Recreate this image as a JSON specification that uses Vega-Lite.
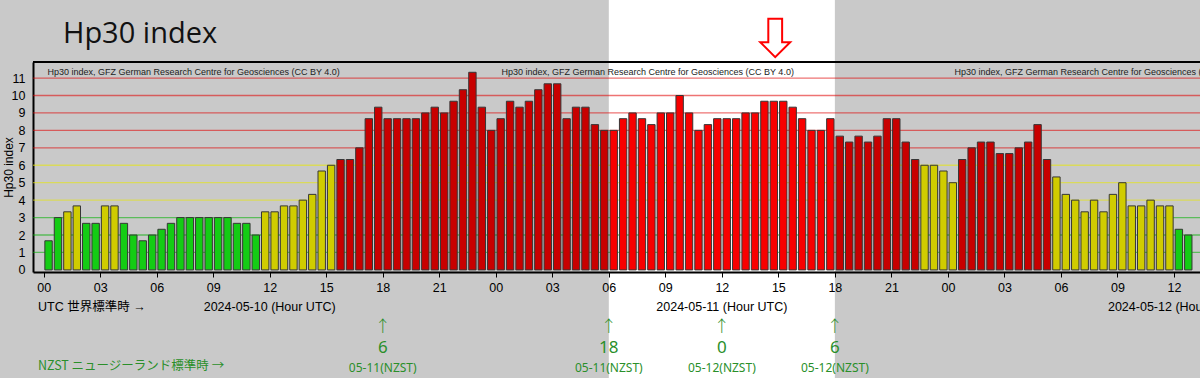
{
  "$schema": "https://vega.github.io/schema/vega-lite/v6.json",
  "autosize": {"type": "none"},
  "padding": {"left": 33, "top": 62, "right": 0, "bottom": 106},
  "width": 1167,
  "height": 210,
  "background": "#c9c9c9",
  "config": {"view": {"stroke": null, "fill": null}},
  "title": {"text": "Hp30 index", "anchor": "start", "frame": "group", "font": "Open Sans", "fontSize": 29, "fontWeight": "normal", "color": "#111111", "dx": 30, "offset": -49},
  "datasets": {
    "hp": [
      {"t": "2024-05-10T00:00:00Z", "v": 1.67}, {"t": "2024-05-10T00:30:00Z", "v": 3}, {"t": "2024-05-10T01:00:00Z", "v": 3.33}, {"t": "2024-05-10T01:30:00Z", "v": 3.67},
      {"t": "2024-05-10T02:00:00Z", "v": 2.67}, {"t": "2024-05-10T02:30:00Z", "v": 2.67}, {"t": "2024-05-10T03:00:00Z", "v": 3.67}, {"t": "2024-05-10T03:30:00Z", "v": 3.67},
      {"t": "2024-05-10T04:00:00Z", "v": 2.67}, {"t": "2024-05-10T04:30:00Z", "v": 2}, {"t": "2024-05-10T05:00:00Z", "v": 1.67}, {"t": "2024-05-10T05:30:00Z", "v": 2},
      {"t": "2024-05-10T06:00:00Z", "v": 2.33}, {"t": "2024-05-10T06:30:00Z", "v": 2.67}, {"t": "2024-05-10T07:00:00Z", "v": 3}, {"t": "2024-05-10T07:30:00Z", "v": 3},
      {"t": "2024-05-10T08:00:00Z", "v": 3}, {"t": "2024-05-10T08:30:00Z", "v": 3}, {"t": "2024-05-10T09:00:00Z", "v": 3}, {"t": "2024-05-10T09:30:00Z", "v": 3},
      {"t": "2024-05-10T10:00:00Z", "v": 2.67}, {"t": "2024-05-10T10:30:00Z", "v": 2.67}, {"t": "2024-05-10T11:00:00Z", "v": 2}, {"t": "2024-05-10T11:30:00Z", "v": 3.33},
      {"t": "2024-05-10T12:00:00Z", "v": 3.33}, {"t": "2024-05-10T12:30:00Z", "v": 3.67}, {"t": "2024-05-10T13:00:00Z", "v": 3.67}, {"t": "2024-05-10T13:30:00Z", "v": 4},
      {"t": "2024-05-10T14:00:00Z", "v": 4.33}, {"t": "2024-05-10T14:30:00Z", "v": 5.67}, {"t": "2024-05-10T15:00:00Z", "v": 6}, {"t": "2024-05-10T15:30:00Z", "v": 6.33},
      {"t": "2024-05-10T16:00:00Z", "v": 6.33}, {"t": "2024-05-10T16:30:00Z", "v": 7}, {"t": "2024-05-10T17:00:00Z", "v": 8.67}, {"t": "2024-05-10T17:30:00Z", "v": 9.33},
      {"t": "2024-05-10T18:00:00Z", "v": 8.67}, {"t": "2024-05-10T18:30:00Z", "v": 8.67}, {"t": "2024-05-10T19:00:00Z", "v": 8.67}, {"t": "2024-05-10T19:30:00Z", "v": 8.67},
      {"t": "2024-05-10T20:00:00Z", "v": 9}, {"t": "2024-05-10T20:30:00Z", "v": 9.33}, {"t": "2024-05-10T21:00:00Z", "v": 9}, {"t": "2024-05-10T21:30:00Z", "v": 9.67},
      {"t": "2024-05-10T22:00:00Z", "v": 10.33}, {"t": "2024-05-10T22:30:00Z", "v": 11.33}, {"t": "2024-05-10T23:00:00Z", "v": 9.33}, {"t": "2024-05-10T23:30:00Z", "v": 8},
      {"t": "2024-05-11T00:00:00Z", "v": 8.67}, {"t": "2024-05-11T00:30:00Z", "v": 9.67}, {"t": "2024-05-11T01:00:00Z", "v": 9.33}, {"t": "2024-05-11T01:30:00Z", "v": 9.67},
      {"t": "2024-05-11T02:00:00Z", "v": 10.33}, {"t": "2024-05-11T02:30:00Z", "v": 10.67}, {"t": "2024-05-11T03:00:00Z", "v": 10.67}, {"t": "2024-05-11T03:30:00Z", "v": 8.67},
      {"t": "2024-05-11T04:00:00Z", "v": 9.33}, {"t": "2024-05-11T04:30:00Z", "v": 9.33}, {"t": "2024-05-11T05:00:00Z", "v": 8.33}, {"t": "2024-05-11T05:30:00Z", "v": 8},
      {"t": "2024-05-11T06:00:00Z", "v": 8}, {"t": "2024-05-11T06:30:00Z", "v": 8.67}, {"t": "2024-05-11T07:00:00Z", "v": 9}, {"t": "2024-05-11T07:30:00Z", "v": 8.67},
      {"t": "2024-05-11T08:00:00Z", "v": 8.33}, {"t": "2024-05-11T08:30:00Z", "v": 9}, {"t": "2024-05-11T09:00:00Z", "v": 9}, {"t": "2024-05-11T09:30:00Z", "v": 10},
      {"t": "2024-05-11T10:00:00Z", "v": 9}, {"t": "2024-05-11T10:30:00Z", "v": 8}, {"t": "2024-05-11T11:00:00Z", "v": 8.33}, {"t": "2024-05-11T11:30:00Z", "v": 8.67},
      {"t": "2024-05-11T12:00:00Z", "v": 8.67}, {"t": "2024-05-11T12:30:00Z", "v": 8.67}, {"t": "2024-05-11T13:00:00Z", "v": 9}, {"t": "2024-05-11T13:30:00Z", "v": 9},
      {"t": "2024-05-11T14:00:00Z", "v": 9.67}, {"t": "2024-05-11T14:30:00Z", "v": 9.67}, {"t": "2024-05-11T15:00:00Z", "v": 9.67}, {"t": "2024-05-11T15:30:00Z", "v": 9.33},
      {"t": "2024-05-11T16:00:00Z", "v": 8.67}, {"t": "2024-05-11T16:30:00Z", "v": 8}, {"t": "2024-05-11T17:00:00Z", "v": 8}, {"t": "2024-05-11T17:30:00Z", "v": 8.67},
      {"t": "2024-05-11T18:00:00Z", "v": 7.67}, {"t": "2024-05-11T18:30:00Z", "v": 7.33}, {"t": "2024-05-11T19:00:00Z", "v": 7.67}, {"t": "2024-05-11T19:30:00Z", "v": 7.33},
      {"t": "2024-05-11T20:00:00Z", "v": 7.67}, {"t": "2024-05-11T20:30:00Z", "v": 8.67}, {"t": "2024-05-11T21:00:00Z", "v": 8.67}, {"t": "2024-05-11T21:30:00Z", "v": 7.33},
      {"t": "2024-05-11T22:00:00Z", "v": 6.33}, {"t": "2024-05-11T22:30:00Z", "v": 6}, {"t": "2024-05-11T23:00:00Z", "v": 6}, {"t": "2024-05-11T23:30:00Z", "v": 5.67},
      {"t": "2024-05-12T00:00:00Z", "v": 5}, {"t": "2024-05-12T00:30:00Z", "v": 6.33}, {"t": "2024-05-12T01:00:00Z", "v": 7}, {"t": "2024-05-12T01:30:00Z", "v": 7.33},
      {"t": "2024-05-12T02:00:00Z", "v": 7.33}, {"t": "2024-05-12T02:30:00Z", "v": 6.67}, {"t": "2024-05-12T03:00:00Z", "v": 6.67}, {"t": "2024-05-12T03:30:00Z", "v": 7},
      {"t": "2024-05-12T04:00:00Z", "v": 7.33}, {"t": "2024-05-12T04:30:00Z", "v": 8.33}, {"t": "2024-05-12T05:00:00Z", "v": 6.33}, {"t": "2024-05-12T05:30:00Z", "v": 5.33},
      {"t": "2024-05-12T06:00:00Z", "v": 4.33}, {"t": "2024-05-12T06:30:00Z", "v": 4}, {"t": "2024-05-12T07:00:00Z", "v": 3.33}, {"t": "2024-05-12T07:30:00Z", "v": 4},
      {"t": "2024-05-12T08:00:00Z", "v": 3.33}, {"t": "2024-05-12T08:30:00Z", "v": 4.33}, {"t": "2024-05-12T09:00:00Z", "v": 5}, {"t": "2024-05-12T09:30:00Z", "v": 3.67},
      {"t": "2024-05-12T10:00:00Z", "v": 3.67}, {"t": "2024-05-12T10:30:00Z", "v": 4}, {"t": "2024-05-12T11:00:00Z", "v": 3.67}, {"t": "2024-05-12T11:30:00Z", "v": 3.67},
      {"t": "2024-05-12T12:00:00Z", "v": 2.33}, {"t": "2024-05-12T12:30:00Z", "v": 2}
    ],
    "band": [{"start": "2024-05-11T06:00:00Z", "end": "2024-05-11T18:00:00Z"}],
    "levels": [{"lv": 1}, {"lv": 2}, {"lv": 3}, {"lv": 4}, {"lv": 5}, {"lv": 6}, {"lv": 7}, {"lv": 8}, {"lv": 9}, {"lv": 10}, {"lv": 11}],
    "credits": [
      {"t": "2024-05-10T00:12:00Z", "text": "Hp30 index, GFZ German Research Centre for Geosciences (CC BY 4.0)"},
      {"t": "2024-05-11T00:18:00Z", "text": "Hp30 index, GFZ German Research Centre for Geosciences (CC BY 4.0)"},
      {"t": "2024-05-12T00:21:00Z", "text": "Hp30 index, GFZ German Research Centre for Geosciences (CC BY 4.0)"}
    ],
    "marker": [{"t": "2024-05-11T14:50:00Z"}],
    "days": [
      {"t": "2024-05-10T12:00:00Z", "label": "2024-05-10 (Hour UTC)"},
      {"t": "2024-05-11T12:00:00Z", "label": "2024-05-11 (Hour UTC)"},
      {"t": "2024-05-12T12:00:00Z", "label": "2024-05-12 (Hour UTC)"}
    ],
    "utcrow": [{"t": "2024-05-09T23:42:00Z", "label": "UTC 世界標準時 →"}],
    "nzrow": [{"t": "2024-05-09T23:42:00Z", "label": "NZST ニュージーランド標準時 →"}],
    "nz": [
      {"t": "2024-05-10T18:00:00Z", "hour": "6", "date": "05-11(NZST)"},
      {"t": "2024-05-11T06:00:00Z", "hour": "18", "date": "05-11(NZST)"},
      {"t": "2024-05-11T12:00:00Z", "hour": "0", "date": "05-12(NZST)"},
      {"t": "2024-05-11T18:00:00Z", "hour": "6", "date": "05-12(NZST)"}
    ]
  },
  "layer": [
    {
      "data": {"name": "band"},
      "mark": {"type": "rect", "fill": "#ffffff"},
      "encoding": {
        "x": {"field": "start", "type": "temporal", "scale": {"type": "utc", "domain": [{"year": 2024, "month": 5, "date": 9, "hours": 23, "minutes": 42, "utc": true}, {"year": 2024, "month": 5, "date": 12, "hours": 13, "minutes": 7, "utc": true}], "nice": false},
          "axis": {"orient": "bottom", "title": null, "format": "%H", "tickCount": 21, "labelFont": "Liberation Sans", "labelFontSize": 12.5, "labelColor": "#000000", "tickColor": "#000000", "tickSize": 5, "tickWidth": 1, "domainColor": "#000000", "domainWidth": 2, "labelPadding": 4, "grid": false, "labelFlush": false, "labelOverlap": false, "zindex": 1}},
        "x2": {"field": "end"},
        "y": {"datum": 15.5, "type": "quantitative", "scale": {"domain": [-0.12, 11.92], "nice": false, "zero": false},
          "axis": {"orient": "left", "values": [0, 1, 2, 3, 4, 5, 6, 7, 8, 9, 10, 11], "tickCount": 12, "title": "Hp30 index", "titleFont": "Liberation Sans", "titleFontSize": 12, "titleFontWeight": "normal", "titleColor": "#000000", "titlePadding": -4, "labelFont": "Liberation Sans", "labelFontSize": 12.5, "labelColor": "#000000", "labelOverlap": false, "labelFlush": false, "ticks": false, "labelPadding": 8, "domainColor": "#000000", "domainWidth": 2, "grid": false}},
        "y2": {"datum": -7}
      }
    },
    {
      "data": {"name": "levels"},
      "mark": {"type": "rule", "strokeWidth": 1.3, "strokeOpacity": 0.55},
      "encoding": {
        "y": {"field": "lv", "type": "quantitative", "scale": {"domain": [-0.12, 11.92], "nice": false, "zero": false},
          "axis": {"orient": "left", "values": [0, 1, 2, 3, 4, 5, 6, 7, 8, 9, 10, 11], "tickCount": 12, "title": "Hp30 index", "titleFont": "Liberation Sans", "titleFontSize": 12, "titleFontWeight": "normal", "titleColor": "#000000", "titlePadding": -4, "labelFont": "Liberation Sans", "labelFontSize": 12.5, "labelColor": "#000000", "labelOverlap": false, "labelFlush": false, "ticks": false, "labelPadding": 8, "domainColor": "#000000", "domainWidth": 2, "grid": false}},
        "stroke": {"field": "lv", "type": "quantitative", "scale": {"type": "threshold", "domain": [3.5, 6.5], "range": ["#00b000", "#e8e800", "#e00000"]}, "legend": null}
      }
    },
    {
      "data": {"name": "hp"},
      "mark": {"type": "bar", "stroke": "#363636", "strokeWidth": 1, "width": 7.4, "xOffset": 4.9},
      "encoding": {
        "x": {"field": "t", "type": "temporal", "scale": {"type": "utc", "domain": [{"year": 2024, "month": 5, "date": 9, "hours": 23, "minutes": 42, "utc": true}, {"year": 2024, "month": 5, "date": 12, "hours": 13, "minutes": 7, "utc": true}], "nice": false}},
        "y": {"field": "v", "type": "quantitative", "scale": {"domain": [-0.12, 11.92], "nice": false, "zero": false},
          "axis": {"orient": "left", "values": [0, 1, 2, 3, 4, 5, 6, 7, 8, 9, 10, 11], "tickCount": 12, "title": "Hp30 index", "titleFont": "Liberation Sans", "titleFontSize": 12, "titleFontWeight": "normal", "titleColor": "#000000", "titlePadding": -4, "labelFont": "Liberation Sans", "labelFontSize": 12.5, "labelColor": "#000000", "labelOverlap": false, "labelFlush": false, "ticks": false, "labelPadding": 8, "domainColor": "#000000", "domainWidth": 2, "grid": false}},
        "y2": {"datum": 0},
        "fill": {"condition": {"test": "time(datum.t) >= utc(2024,4,11,6) && time(datum.t) < utc(2024,4,11,18)", "value": "#f80000"},
          "field": "v", "type": "quantitative", "scale": {"type": "threshold", "domain": [3.1, 6.1], "range": ["#14cc14", "#d0cc00", "#c80000"]}, "legend": null}
      }
    },
    {
      "data": {"name": "levels"},
      "mark": {"type": "rule", "stroke": "#000000", "strokeWidth": 2},
      "encoding": {
        "y": {"datum": 11.92, "type": "quantitative", "scale": {"domain": [-0.12, 11.92], "nice": false, "zero": false}}
      }
    },
    {
      "data": {"name": "credits"},
      "mark": {"type": "text", "align": "left", "baseline": "alphabetic", "font": "Liberation Sans", "fontSize": 9, "color": "#222222"},
      "encoding": {
        "x": {"field": "t", "type": "temporal", "scale": {"type": "utc", "domain": [{"year": 2024, "month": 5, "date": 9, "hours": 23, "minutes": 42, "utc": true}, {"year": 2024, "month": 5, "date": 12, "hours": 13, "minutes": 7, "utc": true}], "nice": false}},
        "y": {"datum": 11.19, "type": "quantitative", "scale": {"domain": [-0.12, 11.92], "nice": false, "zero": false}},
        "text": {"field": "text"}
      }
    },
    {
      "data": {"name": "marker"},
      "mark": {"type": "point", "shape": "M-0.36,-1L0.36,-1L0.36,0.22L0.78,0.22L0,1L-0.78,0.22L-0.36,0.22Z", "size": 1475, "fill": "#ffffff", "fillOpacity": 1, "stroke": "#ff0000", "strokeWidth": 2, "opacity": 1},
      "encoding": {
        "x": {"field": "t", "type": "temporal", "scale": {"type": "utc", "domain": [{"year": 2024, "month": 5, "date": 9, "hours": 23, "minutes": 42, "utc": true}, {"year": 2024, "month": 5, "date": 12, "hours": 13, "minutes": 7, "utc": true}], "nice": false}},
        "y": {"datum": 13.3, "type": "quantitative", "scale": {"domain": [-0.12, 11.92], "nice": false, "zero": false}}
      }
    },
    {
      "data": {"name": "days"},
      "mark": {"type": "text", "align": "center", "baseline": "middle", "font": "Liberation Sans", "fontSize": 12.5, "color": "#000000"},
      "encoding": {
        "x": {"field": "t", "type": "temporal", "scale": {"type": "utc", "domain": [{"year": 2024, "month": 5, "date": 9, "hours": 23, "minutes": 42, "utc": true}, {"year": 2024, "month": 5, "date": 12, "hours": 13, "minutes": 7, "utc": true}], "nice": false}},
        "y": {"datum": -2.1, "type": "quantitative", "scale": {"domain": [-0.12, 11.92], "nice": false, "zero": false}},
        "text": {"field": "label"}
      }
    },
    {
      "data": {"name": "utcrow"},
      "mark": {"type": "text", "align": "left", "baseline": "middle", "font": "Liberation Sans, Noto Sans CJK JP", "fontSize": 12.5, "color": "#000000"},
      "encoding": {
        "x": {"field": "t", "type": "temporal", "scale": {"type": "utc", "domain": [{"year": 2024, "month": 5, "date": 9, "hours": 23, "minutes": 42, "utc": true}, {"year": 2024, "month": 5, "date": 12, "hours": 13, "minutes": 7, "utc": true}], "nice": false}},
        "y": {"datum": -2.1, "type": "quantitative", "scale": {"domain": [-0.12, 11.92], "nice": false, "zero": false}},
        "text": {"field": "label"}
      }
    },
    {
      "data": {"name": "nz"},
      "mark": {"type": "text", "align": "center", "baseline": "middle", "font": "Noto Sans CJK JP", "fontSize": 16, "fontWeight": 300, "color": "#2a8f2a", "text": "↑"},
      "encoding": {
        "x": {"field": "t", "type": "temporal", "scale": {"type": "utc", "domain": [{"year": 2024, "month": 5, "date": 9, "hours": 23, "minutes": 42, "utc": true}, {"year": 2024, "month": 5, "date": 12, "hours": 13, "minutes": 7, "utc": true}], "nice": false}},
        "y": {"datum": -3.25, "type": "quantitative", "scale": {"domain": [-0.12, 11.92], "nice": false, "zero": false}}
      }
    },
    {
      "data": {"name": "nz"},
      "mark": {"type": "text", "align": "center", "baseline": "middle", "font": "Noto Sans", "fontSize": 17, "color": "#2a8f2a"},
      "encoding": {
        "x": {"field": "t", "type": "temporal", "scale": {"type": "utc", "domain": [{"year": 2024, "month": 5, "date": 9, "hours": 23, "minutes": 42, "utc": true}, {"year": 2024, "month": 5, "date": 12, "hours": 13, "minutes": 7, "utc": true}], "nice": false}},
        "y": {"datum": -4.5, "type": "quantitative", "scale": {"domain": [-0.12, 11.92], "nice": false, "zero": false}},
        "text": {"field": "hour"}
      }
    },
    {
      "data": {"name": "nz"},
      "mark": {"type": "text", "align": "center", "baseline": "middle", "font": "Noto Sans", "fontSize": 12, "color": "#2a8f2a"},
      "encoding": {
        "x": {"field": "t", "type": "temporal", "scale": {"type": "utc", "domain": [{"year": 2024, "month": 5, "date": 9, "hours": 23, "minutes": 42, "utc": true}, {"year": 2024, "month": 5, "date": 12, "hours": 13, "minutes": 7, "utc": true}], "nice": false}},
        "y": {"datum": -5.65, "type": "quantitative", "scale": {"domain": [-0.12, 11.92], "nice": false, "zero": false}},
        "text": {"field": "date"}
      }
    },
    {
      "data": {"name": "nzrow"},
      "mark": {"type": "text", "align": "left", "baseline": "middle", "font": "Noto Sans CJK JP", "fontSize": 12.5, "color": "#2a8f2a"},
      "encoding": {
        "x": {"field": "t", "type": "temporal", "scale": {"type": "utc", "domain": [{"year": 2024, "month": 5, "date": 9, "hours": 23, "minutes": 42, "utc": true}, {"year": 2024, "month": 5, "date": 12, "hours": 13, "minutes": 7, "utc": true}], "nice": false}},
        "y": {"datum": -5.5, "type": "quantitative", "scale": {"domain": [-0.12, 11.92], "nice": false, "zero": false}},
        "text": {"field": "label"}
      }
    }
  ]
}
